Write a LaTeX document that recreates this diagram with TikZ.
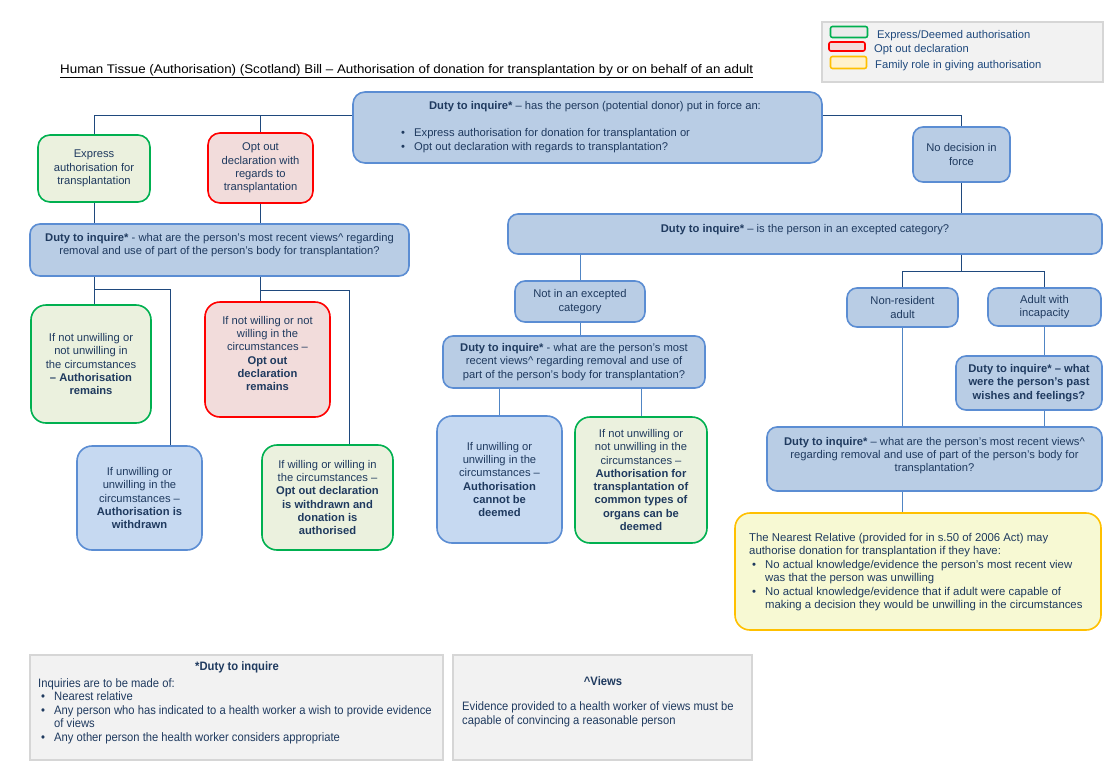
\documentclass[tikz,border=0pt]{standalone}
\usepackage{fontspec}
\setmainfont{Liberation Sans}
\newfontfamily\narrowfont[FakeStretch=0.92]{Liberation Sans}
\usepackage{graphicx}
\definecolor{txtc}{HTML}{1F3A5F}
\definecolor{legtxt}{HTML}{1F497D}
\definecolor{bfill}{HTML}{B9CDE5}
\definecolor{bdraw}{HTML}{5B8DD3}
\definecolor{lbfill}{HTML}{C6D9F1}
\definecolor{gfill}{HTML}{EBF1DE}
\definecolor{gdraw}{HTML}{00B050}
\definecolor{rfill}{HTML}{F2DCDB}
\definecolor{rdraw}{HTML}{FF0000}
\definecolor{yfill}{HTML}{F7F9D3}
\definecolor{ydraw}{HTML}{FFC000}
\definecolor{greyfill}{HTML}{F2F2F2}
\definecolor{greydraw}{HTML}{D6D6D6}
\definecolor{swgfill}{HTML}{EBEBEB}
\definecolor{swyfill}{HTML}{FFF2CC}
\definecolor{dkline}{HTML}{1F497D}
\definecolor{ltline}{HTML}{5085C4}
\newcommand\fsz{\fontsize{11.2}{13.3}\selectfont}
\newcommand\bul{\makebox[16pt][l]{\hspace{3pt}\textbullet}}
\tikzset{
  tx/.style={text=txtc, font=\fsz, align=center, inner sep=0pt},
  bx/.style={rounded corners=10pt, line width=1.6pt, inner sep=0pt, text=txtc, font=\fsz, align=center},
  bluebox/.style={bx, draw=bdraw, fill=bfill},
  lbluebox/.style={bx, draw=bdraw, fill=lbfill, rounded corners=15pt},
  greenbox/.style={bx, draw=gdraw, fill=gfill, rounded corners=15pt},
  redbox/.style={bx, draw=rdraw, fill=rfill, rounded corners=15pt},
  yellowbox/.style={bx, draw=ydraw, fill=yfill, rounded corners=15pt},
  greybox/.style={draw=greydraw, fill=greyfill, line width=1.8pt, inner sep=0pt},
  swatch/.style={line width=1.6pt, rounded corners=2pt, inner sep=0pt},
  legtx/.style={text=legtxt, font=\fontsize{11.2}{13}\selectfont, inner sep=0pt, anchor=west},
  btx/.style={text=txtc, font=\narrowfont\fontsize{12.2}{13.5}\selectfont, inner sep=0pt},
  dk/.style={draw=dkline, line width=1pt},
  lt/.style={draw=ltline, line width=1pt},
}
\begin{document}
\begin{tikzpicture}[x=1pt,y=-1pt]
\useasboundingbox (0,0) rectangle (1116,774);
\fill[white] (0,0) rectangle (1116,774);

% legend
\node[greybox, minimum width=281, minimum height=60] (leg) at (962.5,52) {};
\node[swatch, draw=gdraw, fill=swgfill, minimum width=37, minimum height=11] (sw1) at (849,32) {};
\node[swatch, draw=rdraw, fill=rfill, minimum width=36, minimum height=9] (sw2) at (847,46.5) {};
\node[swatch, draw=ydraw, fill=swyfill, minimum width=36, minimum height=12] (sw3) at (848.5,62.5) {};
\node[legtx] (lt1) at (877,36) {Express/Deemed authorisation};
\node[legtx] (lt2) at (874,50) {Opt out declaration};
\node[legtx] (lt3) at (875,65.5) {Family role in giving authorisation};

% title
\node[inner sep=0pt, anchor=west, text=black, font=\fontsize{12.5}{14}\selectfont] (title) at (60,71)
  {\resizebox{693pt}{\height}{\underline{Human Tissue (Authorisation) (Scotland) Bill – Authorisation of donation for transplantation by or on behalf of an adult}}};

% top box
\node[bluebox, rounded corners=12pt, minimum width=469, minimum height=71] (duty1) at (587.5,127.5) {};
\node[tx] (duty1t) at (595,107) {\textbf{Duty to inquire*} – has the person (potential donor) put in force an:};
\node[tx, anchor=west, align=left] (duty1b) at (398,141)
  {\bul Express authorisation for donation for transplantation or\\[0.6pt] \bul Opt out declaration with regards to transplantation?};

\node[greenbox, rounded corners=12pt, minimum width=112, minimum height=67] (express) at (94,168.5)
  {Express\\ authorisation for\\ transplantation};
\node[redbox, rounded corners=12pt, minimum width=105, minimum height=70] (optout) at (260.5,168)
  {Opt out\\ declaration with\\ regards to\\ transplantation};
\node[bluebox, minimum width=97, minimum height=55] (nodec) at (961.5,154.5)
  {No decision in\\ force};

% left column
\node[bluebox, minimum width=379, minimum height=52] (duty2) at (219.5,250) {};
\node[tx] (duty2t) at (219.5,245)
  {\textbf{Duty to inquire*} - what are the person’s most recent views\^{} regarding\\ removal and use of part of the person’s body for transplantation?};

\node[greenbox, minimum width=120, minimum height=118] (g1) at (91,364)
  {If not unwilling or\\ not unwilling in\\ the circumstances\\ \textbf{– Authorisation}\\ \textbf{remains}};
\node[redbox, minimum width=125, minimum height=115] (r1) at (267.5,359.5) {};
\node[tx] (r1t) at (267.5,353.5)
  {If not willing or not\\ willing in the\\ circumstances –\\ \textbf{Opt out}\\ \textbf{declaration}\\ \textbf{remains}};
\node[lbluebox, minimum width=125, minimum height=104] (b1) at (139.5,498)
  {If unwilling or\\ unwilling in the\\ circumstances –\\ \textbf{Authorisation is}\\ \textbf{withdrawn}};
\node[greenbox, minimum width=131, minimum height=105] (g2) at (327.5,497.5)
  {If willing or willing in\\ the circumstances –\\ \textbf{Opt out declaration}\\ \textbf{is withdrawn and}\\ \textbf{donation is}\\ \textbf{authorised}};

% middle / right
\node[bluebox, minimum width=594, minimum height=40] (duty3) at (805,234) {};
\node[tx] (duty3t) at (805,230) {\textbf{Duty to inquire*} – is the person in an excepted category?};

\node[bluebox, minimum width=130, minimum height=41] (notexc) at (580,301.5)
  {Not in an excepted\\ category};
\node[bluebox, minimum width=111, minimum height=39] (nonres) at (902.5,307.5)
  {Non-resident\\ adult};
\node[bluebox, minimum width=113, minimum height=38] (adult) at (1044.5,307)
  {Adult with\\ incapacity};

\node[bluebox, minimum width=262, minimum height=52] (duty4) at (574,362)
  {\textbf{Duty to inquire*} - what are the person’s most\\ recent views\^{} regarding removal and use of\\ part of the person’s body for transplantation?};
\node[lbluebox, minimum width=125, minimum height=127] (b2) at (499.5,479.5)
  {If unwilling or\\ unwilling in the\\ circumstances –\\ \textbf{Authorisation}\\ \textbf{cannot be}\\ \textbf{deemed}};
\node[greenbox, minimum width=132, minimum height=126] (g3) at (641,480)
  {If not unwilling or\\ not unwilling in the\\ circumstances –\\ \textbf{Authorisation for}\\ \textbf{transplantation of}\\ \textbf{common types of}\\ \textbf{organs can be}\\ \textbf{deemed}};

\node[bluebox, minimum width=146, minimum height=54] (duty5) at (1029,383)
  {\textbf{Duty to inquire* – what}\\ \textbf{were the person’s past}\\ \textbf{wishes and feelings?}};
\node[bluebox, minimum width=335, minimum height=64] (duty6) at (934.5,459) {};
\node[tx] (duty6t) at (934.5,455.5)
  {\textbf{Duty to inquire*} – what are the person’s most recent views\^{}\\ regarding removal and use of part of the person’s body for\\ transplantation?};

\node[yellowbox, minimum width=366, minimum height=117] (yel) at (918,571.5) {};
\node[tx, anchor=west, align=left, font=\fontsize{11.35}{13.4}\selectfont] (yelt) at (749,572)
  {The Nearest Relative (provided for in s.50 of 2006 Act) may\\
   authorise donation for transplantation if they have:\\
   \bul No actual knowledge/evidence the person’s most recent view\\
   \hspace*{16pt}was that the person was unwilling\\
   \bul No actual knowledge/evidence that if adult were capable of\\
   \hspace*{16pt}making a decision they would be unwilling in the circumstances};

% bottom notes
\node[greybox, minimum width=413, minimum height=105] (noteL) at (236.5,707.5) {};
\node[btx, font=\narrowfont\bfseries\fontsize{12.2}{13.5}\selectfont] (noteLh) at (237,667) {*Duty to inquire};
\node[btx, anchor=west, align=left] (noteLt) at (38,711)
  {Inquiries are to be made of:\\
   \bul Nearest relative\\
   \bul Any person who has indicated to a health worker a wish to provide evidence\\
   \hspace*{16pt}of views\\
   \bul Any other person the health worker considers appropriate};
\node[greybox, minimum width=299, minimum height=105] (noteR) at (602.5,707.5) {};
\node[btx, font=\narrowfont\bfseries\fontsize{12.2}{13.5}\selectfont] (noteRh) at (603,681) {\^{}Views};
\node[btx, anchor=west, align=left] (noteRt) at (462,714.5)
  {Evidence provided to a health worker of views must be\\ capable of convincing a reasonable person};

% connectors
\coordinate (bus1) at (0,115);
\coordinate (bus2) at (0,289);
\coordinate (bus3) at (0,290.5);
\coordinate (bus4) at (0,271);
\draw[dk] (express.north) |- (duty1.west |- bus1);
\draw[dk] (optout.north) -- (optout.north |- bus1);
\draw[dk] (duty1.east |- bus1) -| (nodec.north);
\draw[dk] (express.south) -- (express.south |- duty2.north);
\draw[dk] (optout.south) -- (optout.south |- duty2.north);
\draw[dk] (express.south |- duty2.south) -- (g1.north -| express.south);
\draw[dk] (express.south |- bus2) -| ([xshift=31pt]b1.north);
\draw[dk] (optout.south |- duty2.south) -- (optout.south |- r1.north);
\draw[dk] (optout.south |- bus3) -| ([xshift=21.5pt]g2.north);
\draw[dk] (nodec.south) -- (nodec.south |- duty3.north);
\draw[lt] (notexc.north |- duty3.south) -- (notexc.north);
\draw[dk] (nodec.south |- duty3.south) -- (nodec.south |- bus4);
\draw[dk] (nonres.north) |- (adult.north |- bus4) -- (adult.north);
\draw[lt] (notexc.south) -- (notexc.south |- duty4.north);
\draw[lt] (b2.north |- duty4.south) -- (b2.north);
\draw[lt] (g3.north |- duty4.south) -- (g3.north);
\draw[lt] (adult.south) -- (adult.south |- duty5.north);
\draw[lt] (adult.south |- duty5.south) -- (adult.south |- duty6.north);
\draw[lt] (nonres.south) -- (nonres.south |- duty6.north);
\draw[lt] (nonres.south |- duty6.south) -- (nonres.south |- yel.north);
\end{tikzpicture}
\end{document}
